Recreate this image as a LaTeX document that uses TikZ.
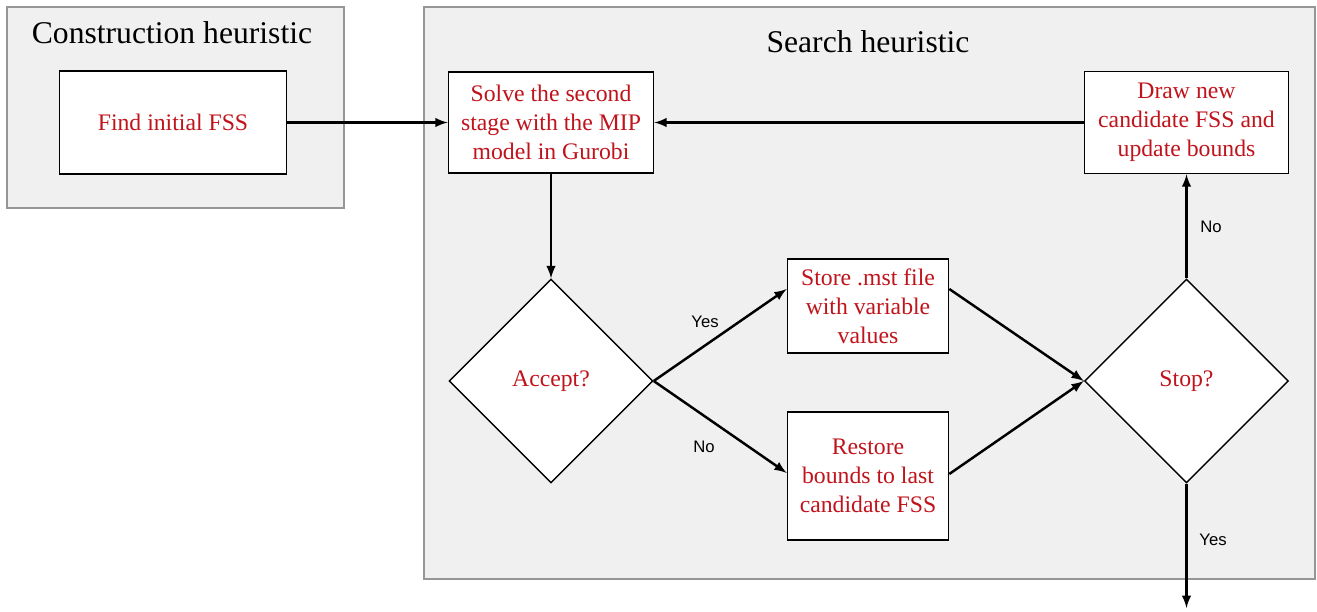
\documentclass[tikz,border=0pt]{standalone}
\usepackage{fontspec}
\setmainfont{Liberation Serif}
\newfontfamily\labelfont{Liberation Sans}
\usepackage{tikz}
\usetikzlibrary{positioning, shapes.geometric}
\definecolor{textred}{RGB}{192,20,28}
\definecolor{groupgray}{RGB}{240,240,240}
\definecolor{framegray}{RGB}{150,150,150}

\begin{document}
\begin{tikzpicture}[-latex, semithick,
group/.style={draw=framegray, fill=groupgray, line width=0.6pt},
title/.style={font=\fontsize{18}{22}\selectfont, text=black},
task/.style={rectangle, draw, fill=white, line width=0.9pt, align=center,
text=textred, font=\fontsize{13.5}{16.5}\selectfont, inner sep=0pt},
choice/.style={diamond, draw, fill=white, line width=0.8pt, aspect=1,
minimum width=4.08cm, minimum height=4.08cm, inner sep=0pt,
text=textred, font=\fontsize{13.5}{16.5}\selectfont},
answer/.style={font=\labelfont\fontsize{9.5}{11}\selectfont, text=black},
flow/.style={line width=1.4pt}]
  \useasboundingbox (0,0) rectangle (26.34,12.24);
  % groups
  \draw[group, -] (0.14,12.1) rectangle (6.88,8.08);
  \draw[group, -] (8.48,12.1) rectangle (26.3,0.66);
  \node[title] (t1) at (3.44,11.58) {Construction heuristic};
  \node[title] (t2) at (17.36,11.4) {Search heuristic};
  % boxes
  \node[task, minimum width=4.54cm, minimum height=2.06cm] (find) at (3.46,9.79) {Find initial FSS};
  \node[task, minimum width=4.1cm, minimum height=2.02cm] (solve) at (11.02,9.79)
    {Solve the second\\stage with the MIP\\model in Gurobi};
  \node[task, minimum width=4.08cm, minimum height=2.04cm] (draw) at (23.73,9.79)
    {Draw new\\candidate FSS and\\update bounds};
  \node[task, minimum width=3.22cm, minimum height=1.88cm] (store) at (17.36,6.12)
    {Store .mst file\\with variable\\values};
  \node[task, minimum width=3.22cm, minimum height=2.56cm] (restore) at (17.36,2.72)
    {Restore\\bounds to last\\candidate FSS};
  % decisions
  \node[choice] (accept) at (11.02,4.62) {Accept?};
  \node[choice] (stop) at (23.73,4.62) {Stop?};
  \coordinate (out) at (23.73,0.08);
  % labels
  \node[answer] (yes1) at (14.1,5.80) {Yes};
  \node[answer] (no1) at (14.08,3.30) {No};
  \node[answer] (no2) at (24.22,7.7) {No};
  \node[answer] (yes2) at (24.26,1.44) {Yes};

\foreach \from/\to in {find/solve.west, draw.west/solve.east, solve.south/accept.north,
    stop.north/draw.south, stop.south/out}
    \draw[flow] (\from) -- (\to);
\draw[flow] (accept.east) -- ([yshift=0.34cm]store.west);
\draw[flow] (accept.east) -- ([yshift=0.06cm]restore.west);
\draw[flow] ([yshift=0.34cm]store.east) -- (stop.west);
\draw[flow] ([yshift=0.04cm]restore.east) -- (stop.west);
\end{tikzpicture}
\end{document}
